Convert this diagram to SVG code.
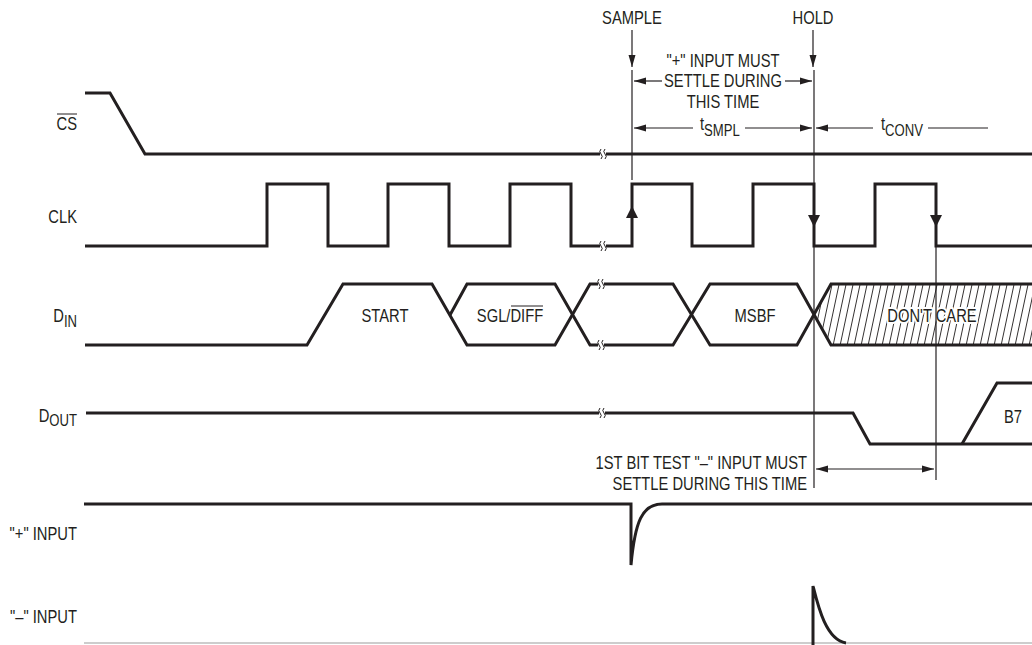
<svg xmlns="http://www.w3.org/2000/svg" width="1032" height="645" viewBox="0 0 1032 645">
<style>
.t{font-family:"Liberation Sans",Arial,sans-serif;font-size:18px;fill:#231f20}
.m{text-anchor:middle}
.e{text-anchor:end}
.sig{fill:none;stroke:#231f20;stroke-width:3;stroke-linejoin:miter}
.thin{fill:none;stroke:#231f20;stroke-width:1.2}
.ar{fill:none;stroke:#231f20;stroke-width:1.2;marker-end:url(#ah)}
.halo{paint-order:stroke;stroke:#fff;stroke-width:4px;stroke-linejoin:round}
</style>
<defs>
<marker id="ah" markerUnits="userSpaceOnUse" markerWidth="13" markerHeight="8" refX="12" refY="4" orient="auto"><path d="M0,0.5 L12,4 L0,7.5 z" fill="#231f20"/></marker>
<marker id="ahs" markerUnits="userSpaceOnUse" markerWidth="13" markerHeight="8" refX="0" refY="4" orient="auto"><path d="M12,0.5 L0,4 L12,7.5 z" fill="#231f20"/></marker>
<pattern id="hatch" patternUnits="userSpaceOnUse" width="7" height="20" patternTransform="skewX(-12)"><line x1="3.5" y1="0" x2="3.5" y2="20" stroke="#231f20" stroke-width="0.9"/></pattern>
<g id="brk"><rect x="-3" y="-4" width="6" height="8" fill="#fff"/><path d="M-2,-5 q-2.5,2.5 0,5 q2.5,2.5 0,5 M2,-5 q-2.5,2.5 0,5 q2.5,2.5 0,5" fill="none" stroke="#231f20" stroke-width="1"/></g>
</defs>
<rect width="1032" height="645" fill="#fff"/>

<g id="cs">
<path class="sig" d="M85,93 H110 L145,154 H1032"/>
<use href="#brk" x="603" y="154"/>
<text class="t e" transform="translate(77,130) scale(0.82,1)">CS</text>
<line x1="57" y1="114" x2="77" y2="114" stroke="#231f20" stroke-width="1"/>
</g>

<g id="clk">
<path class="sig" d="M85,246 H267 V184 H328 V246 H388 V184 H449 V246 H510 V184 H571 V246 H632 V184 H692 V246 H753 V184 H814 V246 H875 V184 H936 V246 H1032"/>
<use href="#brk" x="603" y="246"/>
<polygon points="632,206 626,218 638,218" fill="#231f20"/>
<polygon points="814,227 808,215 820,215" fill="#231f20"/>
<polygon points="936,227 930,215 942,215" fill="#231f20"/>
<text class="t e" transform="translate(77,223) scale(0.82,1)">CLK</text>
</g>

<g id="din">
<path d="M814,315 L831,284 H1032 V345 H831 Z" fill="url(#hatch)"/>
<path class="sig" d="M85,345 H307 L343,284 H432 L467,345 H555 L590,284 H673 L710,345 H797 L831,284 H1032"/>
<path class="sig" d="M450,315 L467,284 H555 L590,345 H673 L710,284 H797 L831,345 H1032"/>
<use href="#brk" x="601" y="284"/>
<use href="#brk" x="601" y="345"/>
<text class="t m" transform="translate(385,322) scale(0.82,1)">START</text>
<text class="t m" transform="translate(510,322) scale(0.82,1)">SGL/DIFF</text>
<line x1="511" y1="306" x2="543" y2="306" stroke="#231f20" stroke-width="1"/>
<text class="t m" transform="translate(755,322) scale(0.82,1)">MSBF</text>
<text class="t m halo" transform="translate(932,322) scale(0.82,1)">DON'T CARE</text>
<text class="t e" transform="translate(77,322) scale(0.82,1)">D<tspan font-size="16" dy="5">IN</tspan></text>
</g>

<g id="dout">
<path class="sig" d="M86,413 H853 L870,444 H1032"/>
<path class="sig" d="M962,444 L997,383 H1032"/>
<use href="#brk" x="602" y="413"/>
<text class="t m" transform="translate(1013,423) scale(0.82,1)">B7</text>
<text class="t e" transform="translate(77,422) scale(0.82,1)">D<tspan font-size="16" dy="4">OUT</tspan></text>
</g>

<g id="plus">
<path class="sig" d="M84,504 H631 V565 C635,522 642,504 662,504 H1032"/>
<text class="t e" transform="translate(77,540) scale(0.82,1)">"+" INPUT</text>
</g>

<g id="minus">
<line x1="84" y1="643" x2="1032" y2="643" stroke="#bdbdbd" stroke-width="1.5"/>
<path class="sig" d="M813,645 V586 C818,606 826,640 846,643"/>
<text class="t e" transform="translate(77,623) scale(0.82,1)">"–" INPUT</text>
</g>

<g id="connectors">
<line class="ar" x1="632" y1="30" x2="632" y2="67"/>
<line class="ar" x1="813" y1="30" x2="813" y2="67"/>
<line class="thin" x1="632" y1="70" x2="632" y2="180"/>
<line class="thin" x1="814" y1="70" x2="814" y2="488"/>
<line class="thin" x1="936" y1="246" x2="936" y2="480"/>
<line class="ar" x1="662" y1="81" x2="634" y2="81"/>
<line class="ar" x1="785" y1="81" x2="812" y2="81"/>
<line class="ar" x1="693" y1="128" x2="634" y2="128"/>
<line class="ar" x1="745" y1="128" x2="812" y2="128"/>
<line class="ar" x1="873" y1="128" x2="816" y2="128"/>
<line class="thin" x1="928" y1="128" x2="988" y2="128"/>
<line class="ar" x1="816" y1="469" x2="934" y2="469" marker-start="url(#ahs)"/>
</g>

<g id="labels">
<text class="t m" transform="translate(632,24) scale(0.82,1)">SAMPLE</text>
<text class="t m" transform="translate(813,24) scale(0.82,1)">HOLD</text>
<text class="t m" transform="translate(723,67) scale(0.82,1)">"+" INPUT MUST</text>
<text class="t m" transform="translate(723,87) scale(0.82,1)">SETTLE DURING</text>
<text class="t m" transform="translate(723,108) scale(0.82,1)">THIS TIME</text>
<text class="t" transform="translate(700,130) scale(0.82,1)">t<tspan font-size="16" dy="6">SMPL</tspan></text>
<text class="t" transform="translate(881,130) scale(0.82,1)">t<tspan font-size="16" dy="6">CONV</tspan></text>
<text class="t e" transform="translate(807,469) scale(0.82,1)">1ST BIT TEST "–" INPUT MUST</text>
<text class="t e" transform="translate(807,490) scale(0.82,1)">SETTLE DURING THIS TIME</text>
</g>
</svg>
